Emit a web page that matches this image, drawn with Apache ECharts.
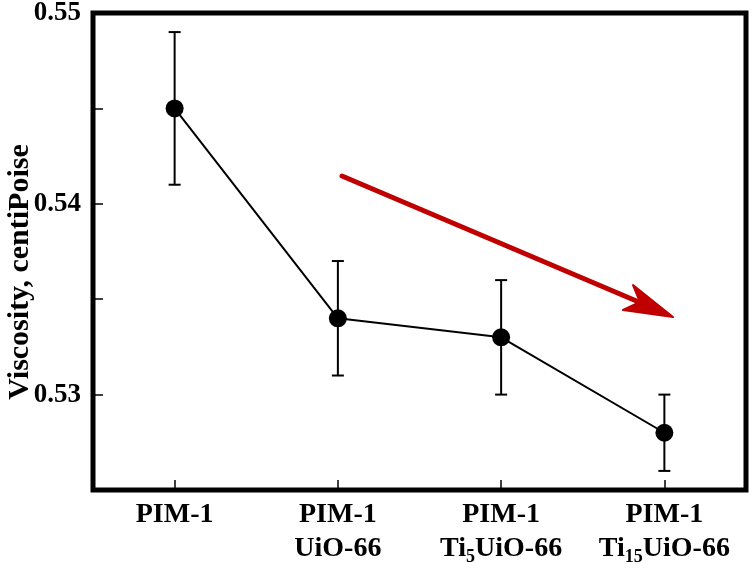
<!DOCTYPE html>
<html>
<head>
<meta charset="utf-8">
<script src="https://cdn.jsdelivr.net/npm/echarts@6/dist/echarts.min.js"></script>
<style>
  html, body { margin: 0; padding: 0; background: #fff; }
  #chart { width: 755px; height: 569px; }
</style>
</head>
<body>
<div id="chart"></div>
<script>
// categories (rich-text labels, subscripts via {sub|..})
const categories = ['PIM-1', 'PIM-1\nUiO-66', 'PIM-1\nTi{sub|5}UiO-66', 'PIM-1\nTi{sub|15}UiO-66'];
const viscosity = [0.545, 0.534, 0.533, 0.528];
const errLow = [0.541, 0.531, 0.530, 0.526];
const errHigh = [0.549, 0.537, 0.536, 0.530];
const yMin = 0.525, yMax = 0.55, yStep = 0.005;
const yTitle = 'Viscosity, centiPoise';

const FONT = '"Liberation Serif", "Times New Roman", serif';

const chart = echarts.init(document.getElementById('chart'));

const errData = categories.map((c, i) => [i, errLow[i], errHigh[i]]);

chart.setOption({
  animation: false,
  grid: {
    left: 93, right: 9, top: 13, bottom: 79,
    containLabel: false,
    outerBoundsMode: 'none',
    show: true, borderColor: '#000', borderWidth: 5, backgroundColor: 'transparent'
  },
  xAxis: {
    type: 'category',
    data: categories,
    axisLine: { show: false },
    axisTick: { show: true, inside: true, length: 10, interval: 0, alignWithLabel: true, lineStyle: { color: '#000', width: 1.5 } },
    axisLabel: {
      interval: 0,
      margin: 8,
      color: '#000',
      fontFamily: FONT,
      fontWeight: 'bold',
      fontSize: 28,
      lineHeight: 34,
      rich: {
        sub: { fontFamily: FONT, fontWeight: 'bold', fontSize: 18, color: '#000', padding: [16, 0, 0, 0] }
      }
    },
    splitLine: { show: false }
  },
  yAxis: {
    type: 'value',
    min: yMin, max: yMax, interval: yStep,
    axisLine: { show: false },
    axisTick: { show: true, inside: true, length: 10, lineStyle: { color: '#000', width: 1.5 } },
    axisLabel: {
      margin: 12,
      color: '#000',
      fontFamily: FONT,
      fontWeight: 'bold',
      fontSize: 27,
      formatter: v => Math.abs(v * 100 - Math.round(v * 100)) < 1e-6 ? v.toFixed(2) : ''
    },
    splitLine: { show: false }
  },
  series: [
    {
      type: 'custom',
      data: errData,
      z: 1,
      renderItem: (params, api) => {
        const x = api.value(0);
        const lo = api.coord([x, api.value(1)]);
        const hi = api.coord([x, api.value(2)]);
        const w = 6;
        const st = { stroke: '#000', lineWidth: 2 };
        return {
          type: 'group',
          children: [
            { type: 'line', shape: { x1: lo[0], y1: lo[1], x2: hi[0], y2: hi[1] }, style: st },
            { type: 'line', shape: { x1: lo[0] - w, y1: lo[1], x2: lo[0] + w, y2: lo[1] }, style: st },
            { type: 'line', shape: { x1: hi[0] - w, y1: hi[1], x2: hi[0] + w, y2: hi[1] }, style: st }
          ]
        };
      }
    },
    {
      type: 'line',
      data: viscosity,
      z: 2,
      symbol: 'circle',
      symbolSize: 18,
      itemStyle: { color: '#000' },
      lineStyle: { color: '#000', width: 2 }
    }
  ],
  graphic: [
    {
      type: 'text',
      x: 20, y: 272,
      rotation: Math.PI / 2,
      style: {
        text: yTitle,
        fill: '#000',
        font: 'bold 30px ' + FONT,
        align: 'center',
        verticalAlign: 'middle'
      }
    },
    {
      type: 'line',
      shape: { x1: 342, y1: 176, x2: 660, y2: 311 },
      style: { stroke: '#c00000', lineWidth: 5, lineCap: 'round' },
      z: 10
    },
    {
      type: 'polygon',
      shape: { points: [[673, 317], [633, 285], [640, 302], [623, 310]] },
      style: { fill: '#c00000', stroke: '#c00000', lineWidth: 2, lineJoin: 'round' },
      z: 10
    }
  ]
});
</script>
</body>
</html>
